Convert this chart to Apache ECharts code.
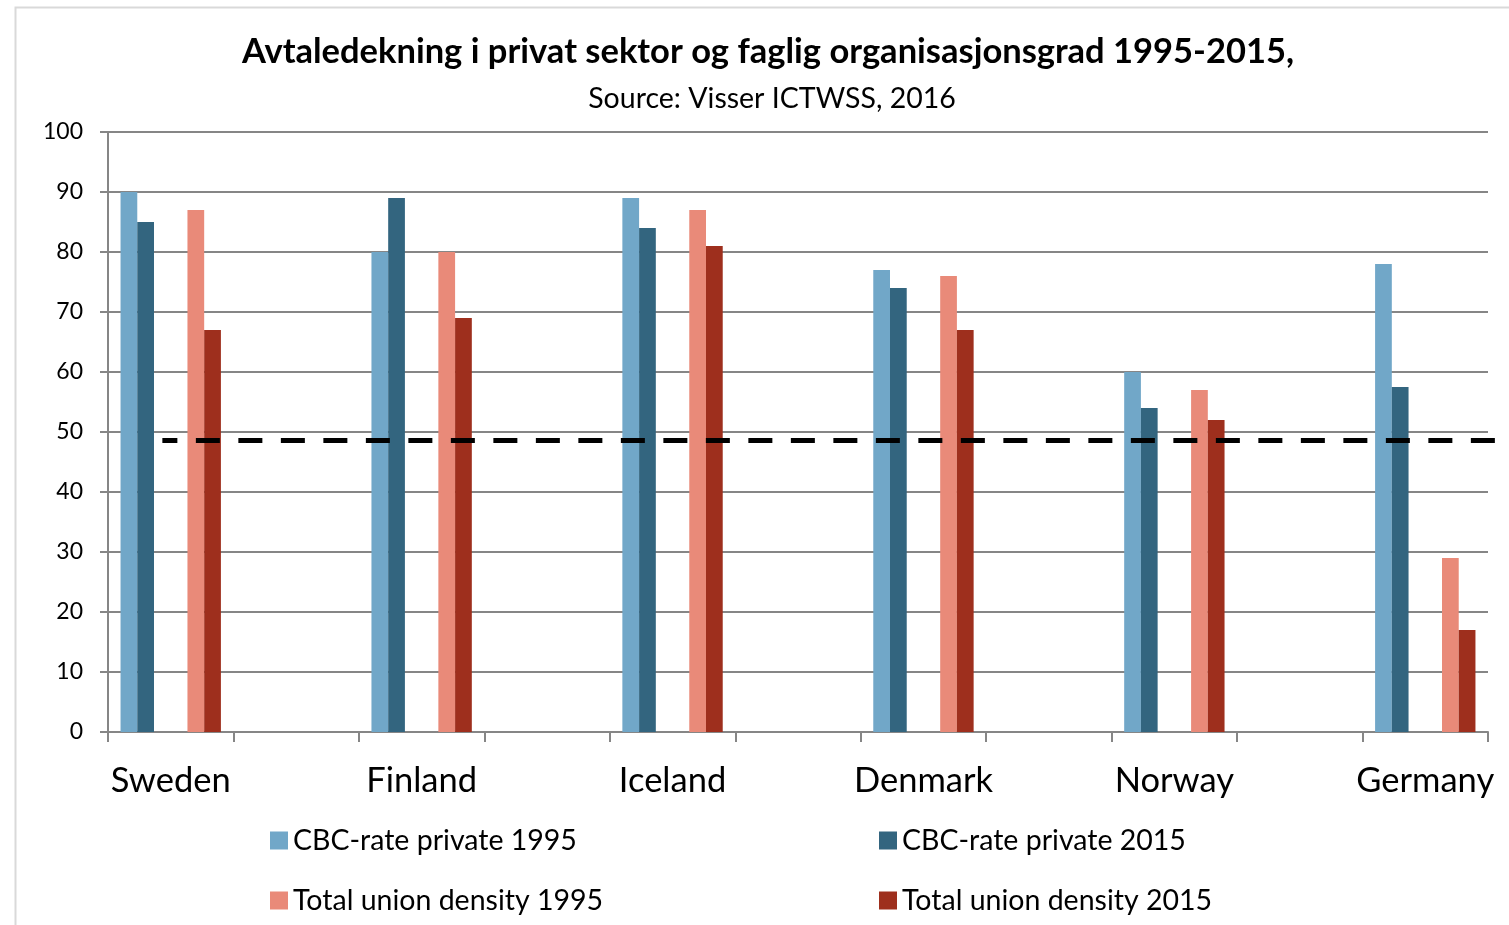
<!DOCTYPE html>
<html>
<head>
<meta charset="utf-8">
<title>Avtaledekning</title>
<script src="https://cdn.jsdelivr.net/npm/echarts@6/dist/echarts.min.js"></script>
<style>
  html, body { margin: 0; padding: 0; background: #fff; }
  #chart { width: 1509px; height: 925px; }
</style>
</head>
<body>
<div id="chart"></div>
<script>
// data
var countries = ['Sweden', 'Finland', 'Iceland', 'Denmark', 'Norway', 'Germany'];
var cbc1995 = [90, 80, 89, 77, 60, 78];
var cbc2015 = [85, 89, 84, 74, 54, 57.5];
var union1995 = [87, 80, 87, 76, 57, 29];
var union2015 = [67, 69, 81, 67, 52, 17];
var refLevel = 48.7; // dashed line
var yTicks = { min: 0, max: 100, interval: 10 };

var seriesNames = ['CBC-rate private 1995', 'CBC-rate private 2015', 'Total union density 1995', 'Total union density 2015'];
var colors = ['#71a7c8', '#33657f', '#e98a79', '#9e2f1d'];

// every country is followed by an empty slot, like in the excel sheet
var slots = [];
countries.forEach(function (c, i) {
  slots.push(c);
  if (i < countries.length - 1) slots.push('');
});
function pad(arr) {
  var out = [];
  arr.forEach(function (v, i) {
    out.push(v);
    if (i < arr.length - 1) out.push(null);
  });
  return out;
}
var empty = slots.map(function () { return null; });

var font = 'Lato, "Noto Sans", sans-serif';
var gray = '#868686';

function bar(name, data, color) {
  return {
    name: name,
    type: 'bar',
    data: data,
    itemStyle: { color: color },
    barGap: '0%',
    barCategoryGap: '20%'
  };
}

var chart = echarts.init(document.getElementById('chart'));

var legendCommon = {
  orient: 'vertical',
  top: 826,
  padding: 0,
  itemWidth: 18, itemHeight: 18, itemGap: 31,
  icon: 'rect',
  textStyle: { fontFamily: font, fontSize: 28.5, color: '#000' }
};

var option = {
  animation: false,
  backgroundColor: '#fff',
  color: colors,
  graphic: [{
    type: 'rect',
    left: 13, top: 5,
    shape: { width: 1600, height: 1000 },
    style: { fill: 'none', stroke: '#d9d9d9', lineWidth: 2 },
    silent: true
  }],
  title: [{
    text: 'Avtaledekning i privat sektor og faglig organisasjonsgrad 1995-2015,',
    left: 763, top: 29, textAlign: 'center',
    textStyle: { fontFamily: font, fontWeight: 'bold', fontSize: 34.5, color: '#000' }
  }, {
    text: 'Source: Visser ICTWSS, 2016',
    left: 767, top: 79, textAlign: 'center',
    textStyle: { fontFamily: font, fontWeight: 'normal', fontSize: 28.5, color: '#000' }
  }],
  legend: [
    Object.assign({ data: [seriesNames[0], seriesNames[2]], left: 270 }, legendCommon),
    Object.assign({ data: [seriesNames[1], seriesNames[3]], left: 879 }, legendCommon)
  ],
  grid: { left: 108, right: 21, top: 132, bottom: 193, containLabel: false },
  xAxis: {
    type: 'category',
    data: slots,
    boundaryGap: true,
    axisLine: { lineStyle: { color: gray, width: 2 } },
    axisTick: { show: true, interval: 0, length: 10, lineStyle: { color: gray, width: 2 } },
    axisLabel: { interval: 0, margin: 31, fontFamily: font, fontSize: 34.5, color: '#000' },
    splitLine: { show: false }
  },
  yAxis: {
    type: 'value',
    min: yTicks.min, max: yTicks.max, interval: yTicks.interval,
    axisLine: { show: true, lineStyle: { color: gray, width: 2 } },
    axisTick: { show: true, length: 8, lineStyle: { color: gray, width: 2 } },
    axisLabel: { margin: 25, fontFamily: font, fontSize: 23, color: '#000' },
    splitLine: { lineStyle: { color: gray, width: 2 } }
  },
  series: [
    bar(seriesNames[0], pad(cbc1995), colors[0]),
    bar(seriesNames[1], pad(cbc2015), colors[1]),
    {
      name: 'gapA', type: 'bar', data: empty, barGap: '0%', barCategoryGap: '20%',
      clip: false,
      markLine: {
        silent: true,
        symbol: 'none',
        label: { show: false },
        lineStyle: { color: '#000', width: 5, type: [24, 18.5], dashOffset: 9 },
        data: [[{ xAxis: 0, yAxis: refLevel }, { x: '100%', yAxis: refLevel }]]
      }
    },
    { name: 'gapB', type: 'bar', data: empty, barGap: '0%', barCategoryGap: '20%' },
    bar(seriesNames[2], pad(union1995), colors[2]),
    bar(seriesNames[3], pad(union2015), colors[3])
  ]
};

chart.setOption(option);
</script>
</body>
</html>
